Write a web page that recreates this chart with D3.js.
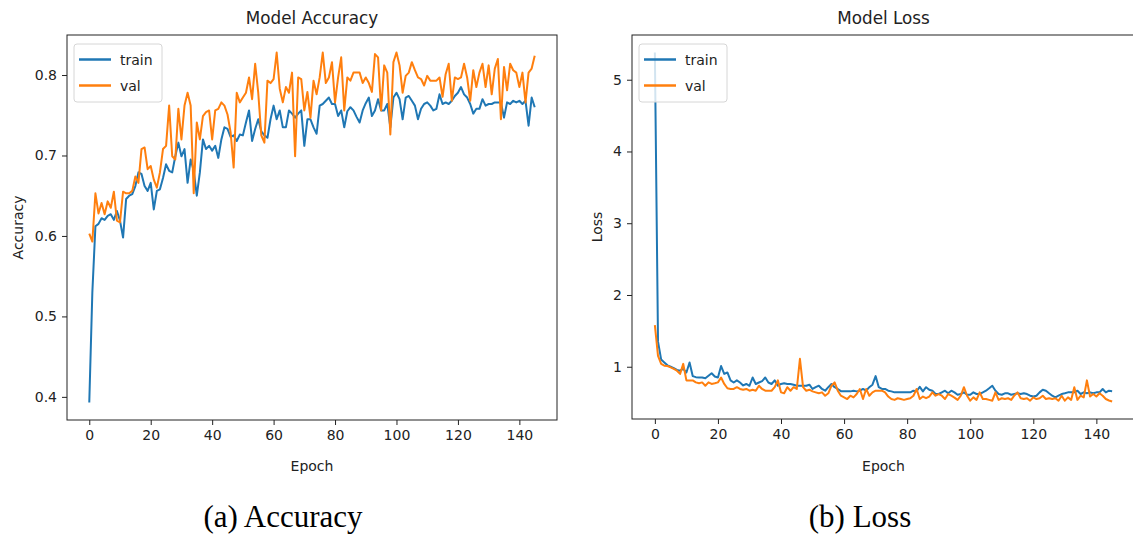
<!DOCTYPE html>
<html><head><meta charset="utf-8">
<script src="https://cdn.jsdelivr.net/npm/d3@7/dist/d3.min.js"></script>
<style>body{margin:0;background:#fff} svg{display:block}</style>
</head><body><svg id="c" width="1133" height="536"></svg>
<script>
const trainAcc = [0.393,0.53,0.612,0.615,0.622,0.62,0.625,0.627,0.62,0.631,0.619,0.598,0.646,0.65,0.652,0.662,0.679,0.677,0.662,0.656,
0.666,0.633,0.656,0.658,0.672,0.689,0.681,0.679,0.699,0.716,0.699,0.708,0.666,0.695,0.681,0.65,0.679,0.72,0.708,0.712,
0.706,0.712,0.697,0.72,0.735,0.733,0.723,0.725,0.718,0.726,0.725,0.741,0.756,0.718,0.733,0.745,0.73,0.725,0.722,0.745,
0.762,0.745,0.756,0.735,0.735,0.756,0.752,0.747,0.752,0.756,0.712,0.745,0.745,0.735,0.727,0.762,0.764,0.768,0.772,0.764,
0.764,0.749,0.756,0.735,0.755,0.760,0.756,0.748,0.741,0.756,0.765,0.772,0.749,0.756,0.770,0.756,0.756,0.764,0.735,0.772,
0.778,0.770,0.745,0.772,0.774,0.768,0.762,0.745,0.758,0.764,0.766,0.762,0.756,0.758,0.776,0.764,0.766,0.764,0.768,0.774,
0.778,0.785,0.776,0.772,0.764,0.752,0.758,0.758,0.770,0.762,0.764,0.764,0.766,0.766,0.766,0.747,0.766,0.764,0.768,0.766,
0.768,0.764,0.768,0.737,0.772,0.760];
const valAcc = [0.603,0.593,0.653,0.628,0.641,0.627,0.643,0.635,0.655,0.619,0.617,0.655,0.653,0.653,0.656,0.674,0.666,0.708,0.71,0.683,
0.687,0.67,0.66,0.679,0.708,0.712,0.762,0.699,0.695,0.758,0.72,0.762,0.778,0.762,0.653,0.741,0.72,0.749,0.754,0.756,
0.72,0.756,0.758,0.766,0.762,0.751,0.729,0.685,0.778,0.766,0.772,0.778,0.797,0.77,0.814,0.778,0.725,0.716,0.793,0.79,
0.795,0.828,0.783,0.766,0.785,0.778,0.803,0.699,0.797,0.795,0.756,0.779,0.747,0.793,0.776,0.797,0.828,0.79,0.797,0.816,
0.766,0.797,0.822,0.756,0.797,0.793,0.803,0.803,0.803,0.79,0.797,0.79,0.779,0.826,0.822,0.756,0.812,0.803,0.726,0.816,
0.828,0.812,0.778,0.799,0.803,0.816,0.806,0.797,0.795,0.787,0.799,0.793,0.793,0.793,0.797,0.773,0.801,0.814,0.768,0.797,
0.795,0.797,0.814,0.797,0.768,0.806,0.785,0.803,0.814,0.785,0.812,0.776,0.808,0.820,0.745,0.81,0.781,0.814,0.806,0.803,
0.785,0.803,0.766,0.803,0.808,0.824];
const trainLoss = [5.38,1.35,1.10,1.06,1.02,1.0,0.98,0.955,0.945,0.97,0.92,1.06,0.87,0.855,0.85,0.85,0.84,0.875,0.91,0.865,
0.85,1.01,0.9,0.92,0.81,0.78,0.81,0.78,0.74,0.76,0.735,0.85,0.76,0.78,0.8,0.85,0.78,0.76,0.81,0.736,
0.76,0.77,0.76,0.76,0.75,0.736,0.736,0.736,0.736,0.75,0.69,0.715,0.736,0.69,0.666,0.715,0.76,0.715,0.69,0.66,
0.657,0.657,0.657,0.666,0.657,0.666,0.69,0.666,0.715,0.75,0.87,0.715,0.69,0.69,0.666,0.657,0.643,0.643,0.643,0.643,
0.643,0.643,0.666,0.66,0.72,0.657,0.715,0.68,0.666,0.62,0.62,0.643,0.666,0.63,0.666,0.643,0.61,0.62,0.643,0.61,
0.61,0.643,0.62,0.62,0.643,0.666,0.7,0.736,0.666,0.62,0.61,0.63,0.63,0.61,0.62,0.63,0.62,0.63,0.62,0.596,
0.585,0.596,0.643,0.68,0.666,0.63,0.596,0.573,0.596,0.62,0.63,0.643,0.643,0.643,0.666,0.62,0.643,0.63,0.643,0.63,
0.643,0.643,0.69,0.643,0.666,0.66];
const valLoss = [1.58,1.15,1.04,1.015,1.01,0.99,0.97,0.945,0.90,1.04,0.81,0.81,0.81,0.782,0.77,0.782,0.736,0.782,0.76,0.77,
0.782,0.85,0.76,0.7,0.69,0.69,0.715,0.69,0.68,0.69,0.666,0.68,0.666,0.736,0.69,0.666,0.666,0.666,0.715,0.81,
0.643,0.63,0.715,0.666,0.715,0.69,1.11,0.715,0.666,0.68,0.657,0.643,0.63,0.643,0.596,0.63,0.736,0.782,0.666,0.596,
0.573,0.55,0.596,0.573,0.62,0.69,0.55,0.69,0.596,0.643,0.666,0.666,0.666,0.643,0.585,0.55,0.538,0.561,0.55,0.538,
0.55,0.561,0.596,0.69,0.55,0.585,0.561,0.585,0.643,0.596,0.62,0.596,0.55,0.62,0.596,0.57,0.538,0.596,0.715,0.596,
0.527,0.573,0.538,0.643,0.55,0.55,0.538,0.527,0.643,0.538,0.561,0.55,0.561,0.538,0.60,0.643,0.561,0.55,0.561,0.527,
0.573,0.55,0.561,0.596,0.55,0.561,0.55,0.561,0.527,0.596,0.527,0.573,0.538,0.715,0.538,0.596,0.573,0.81,0.585,0.62,
0.585,0.63,0.596,0.55,0.53,0.515];
const epochs = trainAcc.map((d,i)=>i);
const xTicks = [0,20,40,60,80,100,120,140];
const accTicks = [0.4,0.5,0.6,0.7,0.8];
const lossTicks = [1,2,3,4,5];
const seriesNames = ["train","val"];
const colors = ["#1f77b4","#ff7f0e"];

const svg = d3.select("#c");
const FONT = "DejaVu Sans";

function panel(o){
  const x = d3.scaleLinear().domain([-7.25,152.25]).range([o.l,o.r]);
  const ext = d3.extent(o.series.flat());
  const pad = (ext[1]-ext[0])*0.05;
  const y = d3.scaleLinear().domain([ext[0]-pad, ext[1]+pad]).range([o.b,o.t]);
  const g = svg.append("g");
  const line = d3.line().x((d,i)=>x(epochs[i])).y(d=>y(d));
  const cid = "clip"+o.id;
  g.append("clipPath").attr("id",cid).append("rect")
    .attr("x",o.l).attr("y",o.t).attr("width",o.r-o.l).attr("height",o.b-o.t);
  o.series.forEach((s,k)=>{
    g.append("path").attr("d",line(s)).attr("fill","none")
     .attr("stroke",colors[k]).attr("stroke-width",2).attr("stroke-linejoin","round")
     .attr("clip-path",`url(#${cid})`);
  });
  const xa = g.append("g").attr("transform",`translate(0,${o.b})`)
    .call(d3.axisBottom(x).tickValues(xTicks).tickSize(5).tickPadding(5).tickFormat(d3.format("d")));
  const ya = g.append("g").attr("transform",`translate(${o.l},0)`)
    .call(d3.axisLeft(y).tickValues(o.yTicks).tickSize(5).tickPadding(5).tickFormat(o.fmt));
  [xa,ya].forEach(a=>{
    a.select(".domain").remove();
    a.selectAll("line").attr("stroke","#222").attr("stroke-width",1);
    a.selectAll("text").attr("font-family",FONT).attr("font-size",14).attr("fill","#222");
  });
  xa.selectAll("text").attr("dy","0.72em");
  g.append("rect").attr("x",o.l).attr("y",o.t).attr("width",o.r-o.l).attr("height",o.b-o.t)
    .attr("fill","none").attr("stroke","#222").attr("stroke-width",1);
  const cx = (o.l+o.r)/2;
  g.append("text").attr("x",cx).attr("y",24).attr("text-anchor","middle")
    .attr("font-family",FONT).attr("font-size",16.8).attr("fill","#222").text(o.title);
  g.append("text").attr("x",cx).attr("y",471).attr("text-anchor","middle")
    .attr("font-family",FONT).attr("font-size",14).attr("fill","#222").text("Epoch");
  g.append("text").attr("transform",`translate(${o.yl},${(o.t+o.b)/2}) rotate(-90)`)
    .attr("text-anchor","middle").attr("font-family",FONT).attr("font-size",14).attr("fill","#222").text(o.ylabel);
  const lg = g.append("g").attr("transform",`translate(${o.l+7},44)`);
  lg.append("rect").attr("x",0).attr("y",0).attr("width",88).attr("height",58).attr("rx",3)
    .attr("fill","white").attr("fill-opacity",0.8).attr("stroke","#d6d6d6");
  seriesNames.forEach((n,k)=>{
    const yy = 15.5 + k*26;
    lg.append("line").attr("x1",5).attr("x2",37).attr("y1",yy).attr("y2",yy)
      .attr("stroke",colors[k]).attr("stroke-width",2.5);
    lg.append("text").attr("x",46).attr("y",yy+5).attr("font-family",FONT).attr("font-size",14)
      .attr("fill","#222").text(n);
  });
  svg.append("text").attr("x",o.capx).attr("y",527).attr("text-anchor","middle")
    .attr("font-family","Liberation Serif").attr("font-size",31).attr("fill","#000").text(o.caption);
}

panel({id:"a",l:67,r:557,t:35,b:420,series:[trainAcc,valAcc],yTicks:accTicks,fmt:d3.format(".1f"),
  title:"Model Accuracy",ylabel:"Accuracy",yl:23,caption:"(a) Accuracy",capx:283});
panel({id:"b",l:632,r:1135,t:35,b:419,series:[trainLoss,valLoss],yTicks:lossTicks,fmt:d3.format("d"),
  title:"Model Loss",ylabel:"Loss",yl:602,caption:"(b) Loss",capx:860});
</script></body></html>
